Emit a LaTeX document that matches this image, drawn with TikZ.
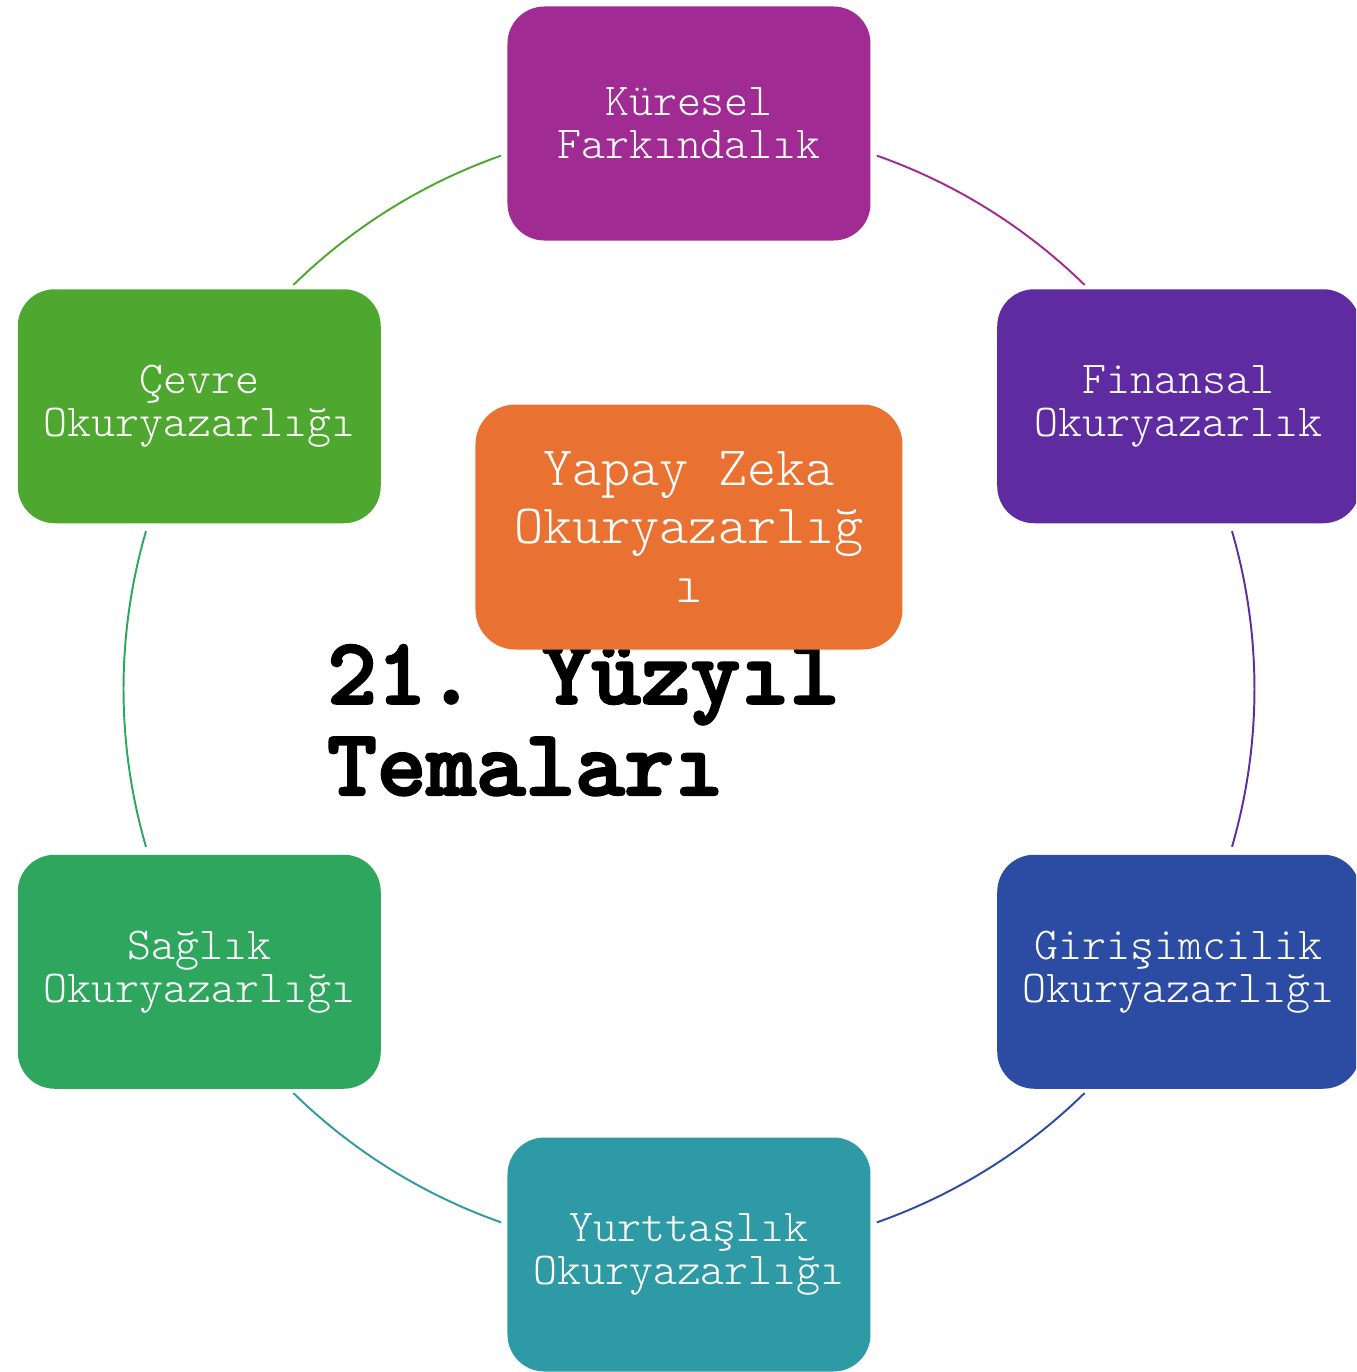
\documentclass[tikz,border=0pt]{standalone}
\usepackage{fontspec}
\newfontfamily\kutufont{lmmonolt10-regular.otf}
\newfontfamily\baslikfont{lmmonolt10-bold.otf}[FakeBold=2.5]
\usetikzlibrary{positioning}
\definecolor{cKuresel}{HTML}{A02B93}
\definecolor{cFinansal}{HTML}{5E2CA0}
\definecolor{cGirisim}{HTML}{2C4BA2}
\definecolor{cYurttas}{HTML}{2E9AA5}
\definecolor{cSaglik}{HTML}{2EA65E}
\definecolor{cCevre}{HTML}{4EA72E}
\definecolor{cYapay}{HTML}{E97132}

\begin{document}
\begin{tikzpicture}[
        kutu/.style={align=center, text=white, minimum width=7.26cm, minimum height=4.68cm,
            rounded corners=0.74cm, inner sep=0pt, font=\kutufont\fontsize{26}{24.5}\selectfont},
        merkez/.style={align=center, text=white, minimum width=8.54cm, minimum height=4.9cm,
            rounded corners=0.8cm, inner sep=0pt, font=\kutufont\fontsize{31.6}{33.2}\selectfont},
        baslik/.style={align=left, inner sep=0pt, font=\baslikfont\fontsize{53.7}{52}\selectfont},
        yay/.style={line width=1.1pt}
    ]
        \clip (-13.78,-13.66) rectangle (13.34,13.78);

        \node[kutu, fill=cKuresel] (n0) at (90:11.31) {Küresel\\Farkındalık};
        \node[kutu, fill=cFinansal] (n1) at (30:11.31) {Finansal\\Okuryazarlık};
        \node[kutu, fill=cGirisim] (n2) at (-30:11.31) {Girişimcilik\\Okuryazarlığı};
        \node[kutu, fill=cYurttas] (n3) at (-90:11.31) {Yurttaşlık\\Okuryazarlığı};
        \node[kutu, fill=cSaglik] (n4) at (-150:11.31) {Sağlık\\Okuryazarlığı};
        \node[kutu, fill=cCevre] (n5) at (150:11.31) {Çevre\\Okuryazarlığı};

        \node[baslik, anchor=base west] (n7) at (-7.24,-2.12) {21. Yüzyıl\\Temaları};
        \node[merkez, fill=cYapay] (n6) at (0,3.24) {Yapay Zeka\\Okuryazarlığ\\ı};

        % circle pieces between the boxes
        \coordinate (a0) at (70.6:11.31);
        \coordinate (a1) at (16.2:11.31);
        \coordinate (a2) at (-45.6:11.31);
        \coordinate (a3) at (-109.4:11.31);
        \coordinate (a4) at (-163.8:11.31);
        \coordinate (a5) at (134.4:11.31);

        \draw[yay, cKuresel] (a0) arc[start angle=70.6, end angle=45.6, radius=11.31cm];
        \draw[yay, cFinansal] (a1) arc[start angle=16.2, end angle=-16.2, radius=11.31cm];
        \draw[yay, cGirisim] (a2) arc[start angle=-45.6, end angle=-70.6, radius=11.31cm];
        \draw[yay, cYurttas] (a3) arc[start angle=-109.4, end angle=-134.4, radius=11.31cm];
        \draw[yay, cSaglik] (a4) arc[start angle=-163.8, end angle=-196.2, radius=11.31cm];
        \draw[yay, cCevre] (a5) arc[start angle=134.4, end angle=109.4, radius=11.31cm];
    \end{tikzpicture}
\end{document}
